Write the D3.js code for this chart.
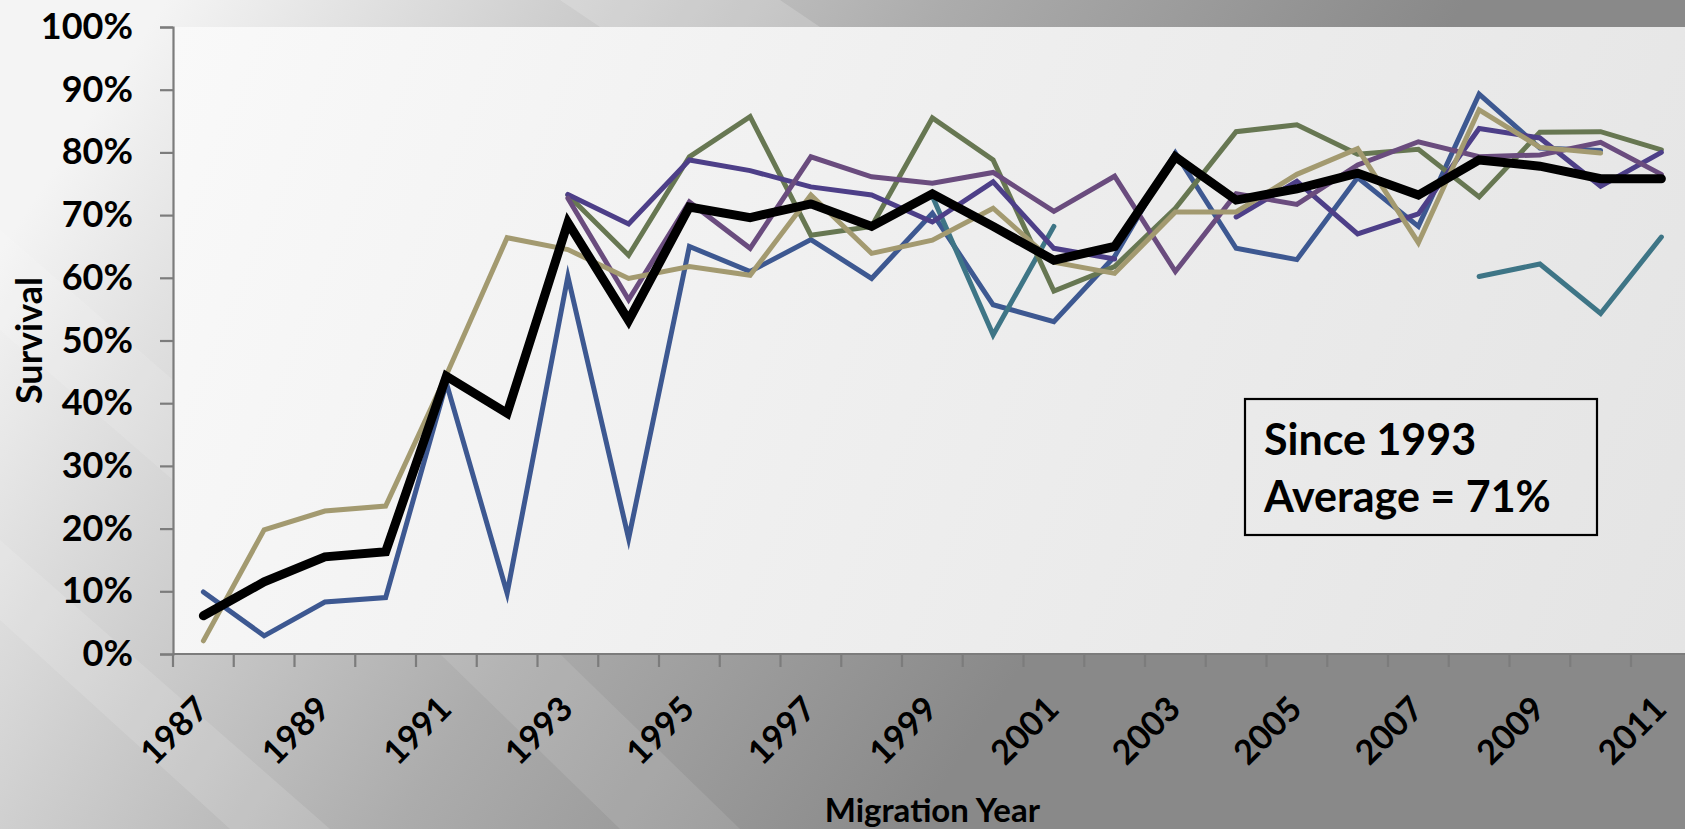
<!DOCTYPE html>
<html>
<head>
<meta charset="utf-8">
<script src="https://cdn.jsdelivr.net/npm/d3@7"></script>
<style>
  html, body { margin: 0; padding: 0; overflow: hidden; background: #bdbdbd; }
  svg { display: block; }
  text { font-family: Lato, "Open Sans", "Liberation Sans", sans-serif; font-weight: 700; fill: #000; }
</style>
</head>
<body>
<svg id="chart" width="1685" height="829"></svg>
<script>
// ---------- data ----------
const years = [1987,1988,1989,1990,1991,1992,1993,1994,1995,1996,1997,1998,1999,
               2000,2001,2002,2003,2004,2005,2006,2007,2008,2009,2010,2011];
const yTicks = [0,0.1,0.2,0.3,0.4,0.5,0.6,0.7,0.8,0.9,1.0];
const xLabelYears = [1987,1989,1991,1993,1995,1997,1999,2001,2003,2005,2007,2009,2011];

// survival (%) per migration year, null = no value
const seriesBlue   = [9.9,2.9,8.3,9.0,43.2,9.7,60.2,18.4,65.0,61.0,66.1,59.9,70.3,55.7,53.0,63.4,79.9,64.7,62.9,76.0,68.2,89.3,80.7,80.3,null];
const seriesTeal   = [null,null,null,null,null,null,null,null,null,null,null,null,73.0,50.9,68.2,null,null,null,null,null,null,60.2,62.2,54.3,66.5];
const seriesOlive  = [null,null,null,null,null,null,73.2,63.6,79.3,85.7,66.8,68.2,85.5,78.8,57.9,61.8,71.1,83.3,84.4,79.7,80.5,72.9,83.2,83.3,80.4];
const seriesIndigo = [null,null,null,null,null,null,73.3,68.6,78.8,77.1,74.5,73.2,68.9,75.3,64.7,63.0,null,69.7,75.4,67.0,70.2,83.8,82.3,74.6,80.0];
const seriesMauve  = [null,null,null,null,null,null,72.7,56.5,72.1,64.7,79.3,76.1,75.1,76.8,70.6,76.2,61.0,73.4,71.7,78.0,81.7,79.3,79.6,81.6,76.5];
const seriesTan    = [2.1,19.8,22.8,23.6,44.5,66.4,64.5,59.9,61.8,60.4,73.2,63.9,66.0,71.1,62.5,60.7,70.5,70.5,76.5,80.6,65.6,86.8,80.8,79.9,null];
const seriesAverage= [6.1,11.5,15.5,16.3,44.3,38.4,68.8,53.2,71.3,69.6,71.8,68.2,73.4,68.2,62.8,65.0,79.3,72.4,74.2,76.7,73.2,78.8,77.8,75.8,75.8];

const seriesList = [
  {name: "Blue",    values: seriesBlue,    color: "#3d5891", width: 5},
  {name: "Teal",    values: seriesTeal,    color: "#3e7586", width: 5},
  {name: "Olive",   values: seriesOlive,   color: "#677752", width: 5},
  {name: "Indigo",  values: seriesIndigo,  color: "#4d3f88", width: 5},
  {name: "Mauve",   values: seriesMauve,   color: "#6a4c7e", width: 5},
  {name: "Tan",     values: seriesTan,     color: "#a39a70", width: 5},
  {name: "Average", values: seriesAverage, color: "#000000", width: 9}
];

const annotationLines = ["Since 1993", "Average = 71%"];

// ---------- layout ----------
const W = 1685, H = 829;
const plot = {left: 173, top: 27, bottom: 654, step: 60.75};
const svg = d3.select("#chart");
const defs = svg.append("defs");

// background gradients
const bg = defs.append("linearGradient").attr("id","bg")
  .attr("gradientUnits","userSpaceOnUse").attr("x1",100).attr("y1",100).attr("x2",1000).attr("y2",700);
[[0,"#f4f4f4"],[0.3,"#cfcfcf"],[0.6,"#acacac"],[1,"#898989"]].forEach(s =>
  bg.append("stop").attr("offset",s[0]).attr("stop-color",s[1]));

const pg = defs.append("linearGradient").attr("id","plotbg")
  .attr("gradientUnits","userSpaceOnUse").attr("x1",173).attr("y1",27).attr("x2",1685).attr("y2",654);
[[0,"#f9f9f9"],[0.45,"#efefef"],[1,"#e4e4e4"]].forEach(s =>
  pg.append("stop").attr("offset",s[0]).attr("stop-color",s[1]));

svg.append("rect").attr("width",W).attr("height",H).attr("fill","url(#bg)");
// soft diagonal light streaks
svg.append("polygon").attr("points","0,540 0,620 230,829 330,829").attr("fill","#ffffff").attr("opacity",0.13);
svg.append("polygon").attr("points","440,654 560,654 740,829 620,829").attr("fill","#ffffff").attr("opacity",0.10);
svg.append("polygon").attr("points","560,0 780,0 820,27 600,27").attr("fill","#ffffff").attr("opacity",0.18);
svg.append("polygon").attr("points","0,230 0,330 173,480 173,380").attr("fill","#ffffff").attr("opacity",0.12);

// ---------- scales ----------
const x = d3.scaleBand().domain(years)
  .range([plot.left, plot.left + plot.step * years.length]).paddingInner(0).paddingOuter(0);
const y = d3.scaleLinear().domain([0, 1]).range([plot.bottom, plot.top]);
const cx = yr => x(yr) + x.bandwidth() / 2;

// plot area
svg.append("rect").attr("x", plot.left).attr("y", plot.top)
  .attr("width", x.range()[1] - plot.left).attr("height", plot.bottom - plot.top)
  .attr("fill","url(#plotbg)");

// ---------- axes ----------
const axisColor = "#7c7c7c";
const yAxis = d3.axisLeft(y).tickValues(yTicks).tickFormat(d3.format(".0%")).tickSize(13).tickPadding(27);
const gy = svg.append("g").attr("transform", `translate(${plot.left},0)`).call(yAxis);
gy.select(".domain").attr("stroke", axisColor).attr("stroke-width", 2.2);
gy.selectAll(".tick line").attr("stroke", axisColor).attr("stroke-width", 2.2);
gy.selectAll(".tick text").style("font-size","36px").attr("fill","#000");

// x axis line
svg.append("line").attr("x1", plot.left).attr("x2", x.range()[1])
  .attr("y1", plot.bottom).attr("y2", plot.bottom)
  .attr("stroke", axisColor).attr("stroke-width", 2.2);
// tick marks at category boundaries
const boundaries = years.map(yr => x(yr)).concat([x.range()[1]]);
svg.append("g").selectAll("line").data(boundaries).join("line")
  .attr("x1", d => d).attr("x2", d => d)
  .attr("y1", plot.bottom).attr("y2", plot.bottom + 13)
  .attr("stroke", axisColor).attr("stroke-width", 2.2);
// rotated labels
svg.append("g").selectAll("text").data(xLabelYears).join("text")
  .attr("transform", d => `translate(${cx(d) + 7},${plot.bottom + 57}) rotate(-45)`)
  .attr("text-anchor","end")
  .style("font-size","34px")
  .text(d => d);

// axis titles
svg.append("text")
  .attr("transform", `translate(42,${(plot.top + plot.bottom) / 2}) rotate(-90)`)
  .attr("text-anchor","middle").style("font-size","36px").text("Survival");
svg.append("text")
  .attr("x", (plot.left + x.range()[1]) / 2).attr("y", 822)
  .attr("text-anchor","middle").style("font-size","33px").text("Migration Year");

// ---------- lines ----------
const line = d3.line()
  .defined(d => d.v !== null)
  .x(d => cx(d.yr))
  .y(d => y(d.v / 100));

svg.append("g").selectAll("path").data(seriesList).join("path")
  .attr("d", s => line(years.map((yr, i) => ({yr, v: s.values[i]}))))
  .attr("fill","none")
  .attr("stroke", s => s.color)
  .attr("stroke-width", s => s.width)
  .attr("stroke-linejoin","miter")
  .attr("stroke-miterlimit", 6)
  .attr("stroke-linecap","round");

// ---------- annotation box ----------
const box = svg.append("g");
box.append("rect").attr("x",1245).attr("y",399).attr("width",352).attr("height",136)
  .attr("fill","none").attr("stroke","#000").attr("stroke-width",2.2);
box.selectAll("text").data(annotationLines).join("text")
  .attr("x",1264).attr("y",(d,i) => 455 + i * 57)
  .style("font-size","43px").text(d => d);
</script>
</body>
</html>
